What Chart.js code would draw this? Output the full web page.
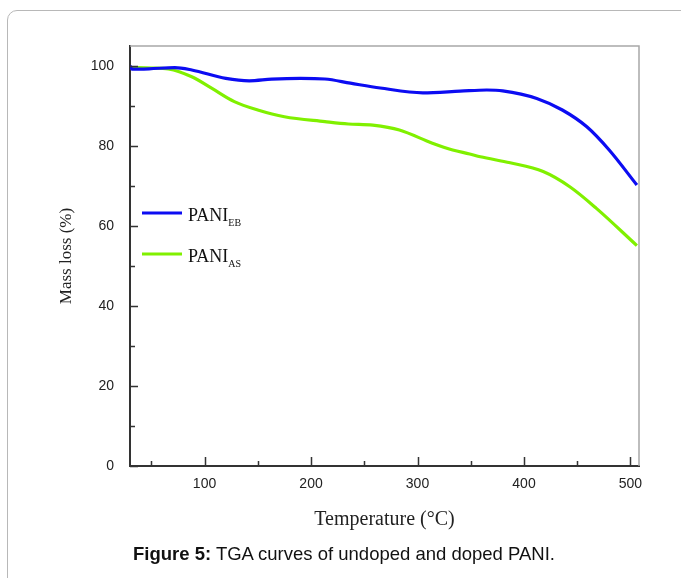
<!DOCTYPE html>
<html>
<head>
<meta charset="utf-8">
<script src="https://cdn.jsdelivr.net/npm/chart.js@4/dist/chart.umd.min.js"></script>
<style>
  html, body { margin: 0; padding: 0; background: #fff; width: 681px; height: 578px; overflow: hidden; }
  #frame { position: absolute; left: 7px; top: 10px; width: 740px; height: 640px; border: 1px solid #b8b8b8; border-radius: 10px; box-sizing: border-box; }
  #wrap { position: absolute; left: 0; top: 0; width: 681px; height: 578px; }
  #caption { position: absolute; left: 0; width: 688px; top: 543px; text-align: center; font-family: "Liberation Sans", Arial, sans-serif; font-size: 18.5px; line-height: normal; color: #111; white-space: nowrap; }
</style>
</head>
<body>
<div id="frame"></div>
<div id="wrap"><canvas id="c" width="681" height="578"></canvas></div>
<div id="caption"><b>Figure 5:</b> TGA curves of undoped and doped PANI.</div>
<script>
// ---- data ----
const ebTemp = [30, 32, 48, 72, 88, 120, 142, 163, 190, 213, 237, 265, 305, 340, 365, 380, 412, 436, 459, 480, 506];
const ebMass = [100, 99.2, 99.3, 99.6, 99.0, 96.9, 96.3, 96.7, 96.9, 96.75, 95.7, 94.5, 93.3, 93.7, 94.0, 93.8, 91.9, 89.0, 84.8, 79.0, 70.25];
const asTemp = [30, 50, 66, 88, 107, 128, 150, 175, 213, 235, 258, 283, 314, 333, 349, 359, 387, 418, 443, 468, 506];
const asMass = [99.6, 99.5, 99.25, 97.3, 94.4, 91.1, 89.0, 87.3, 86.1, 85.5, 85.2, 84.0, 80.7, 79.0, 78.0, 77.3, 75.8, 73.6, 69.8, 64.4, 55.1];
const seriesNames = ['PANI', 'PANI'];
const seriesSubs = ['EB', 'AS'];
const xTicks = [100, 200, 300, 400, 500];
const xMinorTicks = [50, 150, 250, 350, 450];
const yTicks = [0, 20, 40, 60, 80, 100];
const yMinorTicks = [10, 30, 50, 70, 90];

const blue = '#0c0cf2';
const green = '#80f000';

const toPts = (xs, ys) => xs.map((x, i) => ({ x: x, y: ys[i] }));

const decor = {
  id: 'decor',
  afterDatasetsDraw(chart) {
    const { ctx, chartArea: a, scales: { x, y } } = chart;
    ctx.save();
    // top and right frame
    ctx.strokeStyle = '#a8a8a8';
    ctx.lineWidth = 1.5;
    ctx.beginPath();
    ctx.moveTo(a.left, a.top);
    ctx.lineTo(a.right, a.top);
    ctx.lineTo(a.right, a.bottom);
    ctx.stroke();
    // inward ticks
    ctx.strokeStyle = '#333';
    ctx.lineWidth = 1.5;
    ctx.beginPath();
    xTicks.forEach(v => { const p = Math.round(x.getPixelForValue(v)) + 0.5; ctx.moveTo(p, a.bottom); ctx.lineTo(p, a.bottom - 9); });
    xMinorTicks.forEach(v => { const p = Math.round(x.getPixelForValue(v)) + 0.5; ctx.moveTo(p, a.bottom); ctx.lineTo(p, a.bottom - 5); });
    yTicks.forEach(v => { const p = Math.round(y.getPixelForValue(v)) + 0.5; ctx.moveTo(a.left, p); ctx.lineTo(a.left + 8, p); });
    yMinorTicks.forEach(v => { const p = Math.round(y.getPixelForValue(v)) + 0.5; ctx.moveTo(a.left, p); ctx.lineTo(a.left + 5, p); });
    ctx.stroke();
    // legend
    const rows = [213, 254];
    chart.data.datasets.forEach((ds, i) => {
      const yy = rows[i];
      ctx.strokeStyle = ds.borderColor;
      ctx.lineWidth = 3;
      ctx.beginPath();
      ctx.moveTo(142, yy);
      ctx.lineTo(182, yy);
      ctx.stroke();
      ctx.fillStyle = '#111';
      ctx.textBaseline = 'alphabetic';
      ctx.textAlign = 'left';
      ctx.font = '18px "Liberation Serif", "Times New Roman", serif';
      ctx.fillText(seriesNames[i], 188, yy + 8);
      const w = ctx.measureText(seriesNames[i]).width;
      ctx.font = '10px "Liberation Serif", "Times New Roman", serif';
      ctx.fillText(seriesSubs[i], 188 + w, yy + 13);
    });
    ctx.restore();
  }
};

new Chart(document.getElementById('c'), {
  type: 'line',
  data: {
    datasets: [
      { label: seriesNames[0] + seriesSubs[0], data: toPts(ebTemp, ebMass), borderColor: blue, borderWidth: 3.2, pointRadius: 0, cubicInterpolationMode: 'monotone', fill: false },
      { label: seriesNames[1] + seriesSubs[1], data: toPts(asTemp, asMass), borderColor: green, borderWidth: 3.2, pointRadius: 0, cubicInterpolationMode: 'monotone', fill: false }
    ]
  },
  options: {
    responsive: false,
    animation: false,
    layout: { padding: { top: 46, right: 42, left: 0, bottom: 0 } },
    plugins: { legend: { display: false }, tooltip: { enabled: false } },
    scales: {
      x: {
        type: 'linear', min: 30, max: 508,
        afterBuildTicks: s => { s.ticks = xTicks.map(v => ({ value: v })); },
        afterFit: s => { s.height = 112; },
        grid: { display: false, drawTicks: false },
        border: { display: true, color: '#333', width: 2 },
        ticks: { color: '#222', padding: 10, font: { family: '"Liberation Sans", Arial, sans-serif', size: 14 }, maxRotation: 0 },
        title: { display: true, text: 'Temperature (°C)', color: '#222', font: { family: '"Liberation Serif", "Times New Roman", serif', size: 20 }, padding: { top: 0, bottom: 46.5 } }
      },
      y: {
        min: 0, max: 105,
        afterBuildTicks: s => { s.ticks = yTicks.map(v => ({ value: v })); },
        afterFit: s => { s.width = 130; },
        grid: { display: false, drawTicks: false },
        border: { display: true, color: '#333', width: 2 },
        ticks: { color: '#222', padding: 16, font: { family: '"Liberation Sans", Arial, sans-serif', size: 14 } },
        title: { display: true, text: 'Mass loss (%)', color: '#222', font: { family: '"Liberation Serif", "Times New Roman", serif', size: 17 }, padding: { top: 56, bottom: 0 } }
      }
    }
  },
  plugins: [decor]
});
</script>
</body>
</html>
